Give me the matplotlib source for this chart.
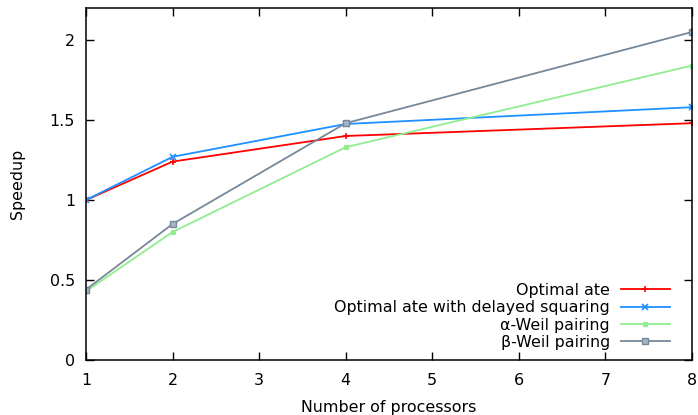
import matplotlib
matplotlib.use("Agg")
import matplotlib.pyplot as plt

processors = [1, 2, 4, 8]
optimal_ate = [1.0, 1.24, 1.40, 1.48]
optimal_ate_delayed = [1.0, 1.27, 1.475, 1.58]
alpha_weil = [0.43, 0.80, 1.33, 1.84]
beta_weil = [0.44, 0.85, 1.48, 2.05]
labels = ["Optimal ate", "Optimal ate with delayed squaring", "α-Weil pairing", "β-Weil pairing"]
xticks = [1, 2, 3, 4, 5, 6, 7, 8]
yticks = [0, 0.5, 1, 1.5, 2]

plt.rcParams['font.family'] = ['DejaVu Sans']
FS = 11.4

fig = plt.figure(figsize=(6.98, 4.15), dpi=100)
ax = fig.add_axes([86/698, 55/415, (692-86)/698, (360-8)/415])

ax.plot(processors, optimal_ate, color='#ff0000', lw=1.3, marker='+', ms=5, mew=1.2, label=labels[0])
ax.plot(processors, optimal_ate_delayed, color='#1e90ff', lw=1.3, marker='x', ms=4, mew=1.2, label=labels[1])
ax.plot(processors, alpha_weil, color='#90ee90', lw=1.3, marker='s', ms=3.5, mew=0.8, label=labels[2])
ax.plot(processors, beta_weil, color='#778899', lw=1.3, marker='s', ms=4, mew=1.0,
        markerfacecolor='#a8b4c0', label=labels[3])

ax.set_xlim(1, 8)
ax.set_ylim(0, 2.2)
ax.set_xticks(xticks)
ax.set_xticklabels([str(t) for t in xticks])
ax.set_yticks(yticks)
ax.set_yticklabels(['0', '0.5', '1', '1.5', '2'])
ax.tick_params(direction='in', length=6, width=1, top=True, right=True, labelsize=FS)
ax.tick_params(axis='x', pad=9)
ax.tick_params(axis='y', pad=8)
for s in ax.spines.values():
    s.set_linewidth(1.1)

ax.set_xlabel("Number of processors", fontsize=FS, labelpad=9)
ax.set_ylabel("Speedup", fontsize=FS, labelpad=18)

leg = ax.legend(loc='lower right', frameon=False, markerfirst=False, handlelength=3.1,
                fontsize=FS, labelspacing=0.15, borderaxespad=0, borderpad=0, handletextpad=0.7,
                bbox_to_anchor=((670-86)/606, 10/352))
for t in leg.get_texts():
    t.set_ha('right')

fig.savefig("out.png", dpi=100)
